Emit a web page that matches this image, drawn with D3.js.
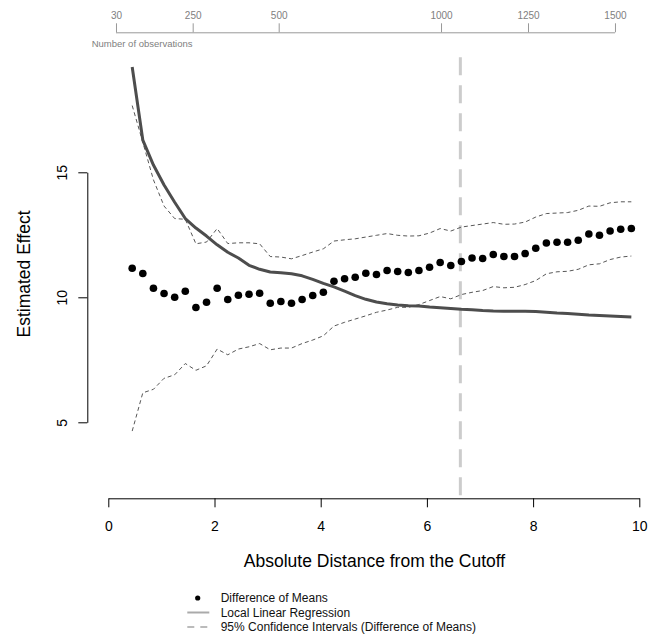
<!DOCTYPE html>
<html><head><meta charset="utf-8">
<script src="https://cdn.jsdelivr.net/npm/d3@7"></script>
<style>body{margin:0;background:#fff}svg{display:block}text{font-family:"Liberation Sans",Arial,Helvetica,sans-serif}</style>
</head><body><svg id="c" width="660" height="635"></svg>
<script>
const distance = [0.45,0.65,0.85,1.05,1.25,1.45,1.65,1.85,2.05,2.25,2.45,2.65,2.85,3.05,3.25,3.45,3.65,3.85,4.05,4.25,4.45,4.65,4.85,5.05,5.25,5.45,5.65,5.85,6.05,6.25,6.45,6.65,6.85,7.05,7.25,7.45,7.65,7.85,8.05,8.25,8.45,8.65,8.85,9.05,9.25,9.45,9.65,9.85];
const diffMeans = [11.16,10.95,10.36,10.15,10.00,10.24,9.59,9.80,10.36,9.91,10.08,10.12,10.16,9.76,9.83,9.76,9.91,10.07,10.20,10.64,10.74,10.80,10.96,10.91,11.07,11.03,10.99,11.07,11.20,11.39,11.27,11.43,11.57,11.55,11.71,11.63,11.63,11.75,11.96,12.17,12.20,12.20,12.28,12.53,12.48,12.65,12.72,12.75];
const localLinear = [19.21,16.29,15.29,14.49,13.80,13.15,12.77,12.45,12.10,11.80,11.57,11.28,11.12,11.01,10.98,10.94,10.86,10.72,10.56,10.42,10.25,10.07,9.92,9.81,9.74,9.69,9.66,9.65,9.61,9.58,9.55,9.52,9.50,9.47,9.45,9.44,9.44,9.44,9.43,9.40,9.37,9.35,9.32,9.29,9.27,9.25,9.23,9.21];
const ciUpper = [17.67,16.20,14.70,13.65,13.15,13.12,12.14,12.21,12.75,12.15,12.18,12.18,12.14,11.63,11.61,11.54,11.67,11.81,11.94,12.25,12.30,12.34,12.41,12.48,12.55,12.48,12.45,12.46,12.57,12.75,12.65,12.81,12.87,12.93,12.99,12.92,12.93,13.01,13.21,13.35,13.37,13.39,13.48,13.65,13.64,13.78,13.82,13.82];
const ciLower = [4.65,6.18,6.32,6.76,6.90,7.35,7.08,7.26,7.93,7.70,7.93,8.02,8.15,7.90,7.97,7.97,8.15,8.29,8.46,8.85,9.00,9.13,9.26,9.40,9.49,9.60,9.60,9.71,9.87,10.03,9.94,10.11,10.20,10.27,10.43,10.38,10.40,10.51,10.67,10.94,11.02,11.04,11.12,11.30,11.34,11.51,11.61,11.65];
const xTicks = [0,2,4,6,8,10];
const yTicks = [5,10,15];
const obsTickPos = [0.145,1.589,3.209,6.266,7.904,9.542];
const obsTickLabels = ["30","250","500","1000","1250","1500"];
const cutoffLine = 6.63;
const yLim = [1.95,19.6];
const legendLabels = ["Difference of Means","Local Linear Regression","95% Confidence Intervals (Difference of Means)"];

const svg = d3.select("#c");
const x = d3.scaleLinear().domain([0,10]).range([108.3,639.3]);
const y = d3.scaleLinear().domain([5,15]).range([422.3,172.3]);

// cutoff vertical line
svg.append("line")
  .attr("x1",x(cutoffLine)).attr("x2",x(cutoffLine))
  .attr("y1",y(yLim[1])).attr("y2",y(yLim[0]))
  .attr("stroke","#cccccc").attr("stroke-width",3).attr("stroke-dasharray","18,10");

const line = d3.line().x((d,i)=>x(distance[i])).y(d=>y(d));
[ciUpper,ciLower].forEach(arr=>{
  svg.append("path").attr("d",line(arr)).attr("fill","none")
    .attr("stroke","#444").attr("stroke-width",0.9).attr("stroke-dasharray","4,3");
});
svg.append("path").attr("d",line(localLinear)).attr("fill","none")
  .attr("stroke","#4d4d4d").attr("stroke-width",3).attr("stroke-linejoin","round");

svg.append("g").selectAll("circle").data(diffMeans).join("circle")
  .attr("cx",(d,i)=>x(distance[i])).attr("cy",d=>y(d)).attr("r",3.8).attr("fill","#000");

// bottom axis
const gx = svg.append("g").attr("transform","translate(0,498.3)")
  .call(d3.axisBottom(x).tickValues(xTicks).tickSize(9).tickSizeOuter(0).tickPadding(14).tickFormat(d3.format("d")));
gx.attr("font-family",null).attr("font-size",14);
gx.selectAll("text").attr("fill","#000");
gx.selectAll("line,path").attr("stroke","#000");

// left axis
const gy = svg.append("g").attr("transform","translate(87.3,0)")
  .call(d3.axisLeft(y).tickValues(yTicks).tickSize(9).tickSizeOuter(0));
gy.attr("font-family",null).attr("font-size",14);
gy.selectAll("line,path").attr("stroke","#000");
gy.selectAll("text").attr("fill","#000").attr("x",0).attr("y",0).attr("dy",null)
  .attr("text-anchor","middle").attr("transform","translate(-20.8,0) rotate(-90)");

// top axis (number of observations)
const gt = svg.append("g").attr("transform","translate(0,32.3)")
  .call(d3.axisTop(x).tickValues(obsTickPos).tickFormat((d,i)=>obsTickLabels[i]).tickSize(9).tickSizeOuter(0).tickPadding(4));
gt.attr("font-family",null).attr("font-size",10);
gt.select(".domain").remove();
gt.append("line").attr("x1",x(obsTickPos[0])).attr("x2",x(obsTickPos[obsTickPos.length-1]))
  .attr("y1",0.5).attr("y2",0.5).attr("stroke","#999");
gt.selectAll(".tick line").attr("stroke","#999");
gt.selectAll("text").attr("fill","#808080");
svg.append("text").attr("x",91.7).attr("y",46.6).attr("font-size",9.5).attr("fill","#808080").text("Number of observations");

// axis titles
svg.append("text").attr("x",374.5).attr("y",567.3).attr("text-anchor","middle").attr("font-size",17.5).attr("fill","#000")
  .text("Absolute Distance from the Cutoff");
svg.append("text").attr("transform","translate(30.3,274) rotate(-90)").attr("text-anchor","middle").attr("font-size",17.5).attr("fill","#000")
  .text("Estimated Effect");

// legend
const lg = svg.append("g");
const rows = [598,612.5,627];
lg.append("circle").attr("cx",197.7).attr("cy",rows[0]).attr("r",2.6).attr("fill","#000");
lg.append("line").attr("x1",187.3).attr("x2",209.3).attr("y1",rows[1]).attr("y2",rows[1]).attr("stroke","#aaa").attr("stroke-width",2);
lg.append("line").attr("x1",187.3).attr("x2",209.3).attr("y1",rows[2]).attr("y2",rows[2]).attr("stroke","#bbb").attr("stroke-width",2).attr("stroke-dasharray","7,6");
lg.selectAll("text").data(legendLabels).join("text")
  .attr("x",220.7).attr("y",(d,i)=>rows[i]+4.3).attr("font-size",12).attr("fill","#111").text(d=>d);
</script></body></html>
